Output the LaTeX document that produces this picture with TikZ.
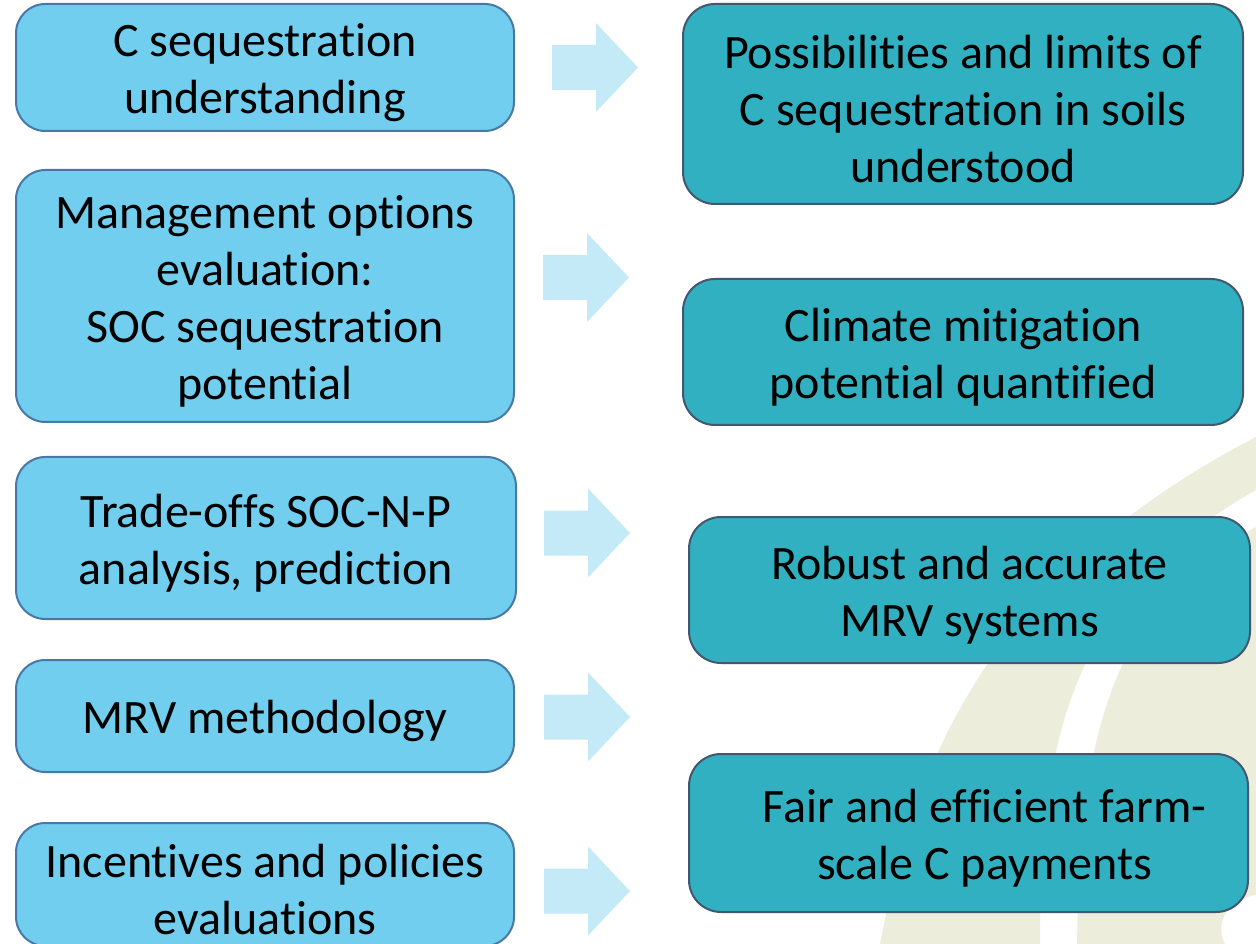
\documentclass[tikz,border=0pt]{standalone}
\usepackage{fontspec}
\setmainfont{Carlito}[Ligatures=NoCommon]
\definecolor{lfill}{RGB}{113,206,238}
\definecolor{ldraw}{RGB}{72,120,165}
\definecolor{rfill}{RGB}{49,176,193}
\definecolor{rdraw}{RGB}{66,88,112}
\definecolor{afill}{RGB}{196,234,247}
\definecolor{wmark}{RGB}{236,237,219}
\begin{document}
\begin{tikzpicture}[x=0.75pt,y=-0.75pt,
  txt/.style={align=center,inner sep=0pt,font=\fontsize{36}{42.75}\selectfont,text=black,yshift=-3.75pt},
  lbox/.style={draw=ldraw,fill=lfill,line width=1.5pt,rounded corners=22pt,inner sep=0pt},
  rbox/.style={draw=rdraw,fill=rfill,line width=1.5pt,rounded corners=24pt,inner sep=0pt},
  barrow/.pic={\fill[afill] (0,-22.5) -- (44,-22.5) -- (44,-44.5) -- (86,0) -- (44,44.5) -- (44,22.5) -- (0,22.5) -- cycle;}]
\clip (0,0) rectangle (1256,944);
\fill[white] (0,0) rectangle (1256,944);
% watermark
\fill[wmark] (880,944) .. controls (915,760) and (990,575) .. (1256,437) -- (1256,490)
  .. controls (1060,600) and (1040,760) .. (1040,944) -- cycle;
\fill[wmark] (1077,944) .. controls (1080,760) and (1100,610) .. (1256,527) -- (1256,944) -- cycle;
\fill[white] (1256,895) .. controls (1225,900) and (1215,925) .. (1225,944) -- (1256,944) -- cycle;
% left boxes
\node[lbox,minimum width=373.5pt,minimum height=95.25pt,label={[txt]center:{C sequestration\\understanding}}] (l1) at (265,67.5) {};
\node[lbox,minimum width=373.5pt,minimum height=189pt,label={[txt]center:{Management options\\evaluation:\\SOC sequestration\\potential}}] (l2) at (265,296) {};
\node[lbox,minimum width=375pt,minimum height=121.5pt,label={[txt]center:{Trade-offs SOC-N-P\\analysis, prediction}}] (l3) at (266,538) {};
\node[lbox,minimum width=373.5pt,minimum height=84pt,label={[txt]center:{MRV methodology}}] (l4) at (265,716) {};
\node[lbox,minimum width=373.5pt,minimum height=92.25pt,label={[txt]center:{Incentives and policies\\evaluations}}] (l5) at (265,884.5) {};
% right boxes
\node[rbox,minimum width=420pt,minimum height=150pt,label={[txt]center:{Possibilities and limits of\\C sequestration in soils\\understood}}] (r1) at (963,104) {};
\node[rbox,minimum width=420pt,minimum height=109.5pt,label={[txt]center:{Climate mitigation\\potential quantified}}] (r2) at (963,352) {};
\node[rbox,minimum width=420.75pt,minimum height=109.5pt,label={[txt]center:{Robust and accurate\\MRV systems}}] (r3) at (969.5,590) {};
\node[rbox,minimum width=419.25pt,minimum height=118.5pt,label={[txt,xshift=12pt]center:{Fair and efficient farm-\\scale C payments}}] (r4) at (968.5,833) {};
% block arrows
\pic at (552,67.5) {barrow};
\pic at (543,277.5) {barrow};
\pic at (544,533) {barrow};
\pic at (544,717) {barrow};
\pic at (544,891) {barrow};
\end{tikzpicture}
\end{document}
